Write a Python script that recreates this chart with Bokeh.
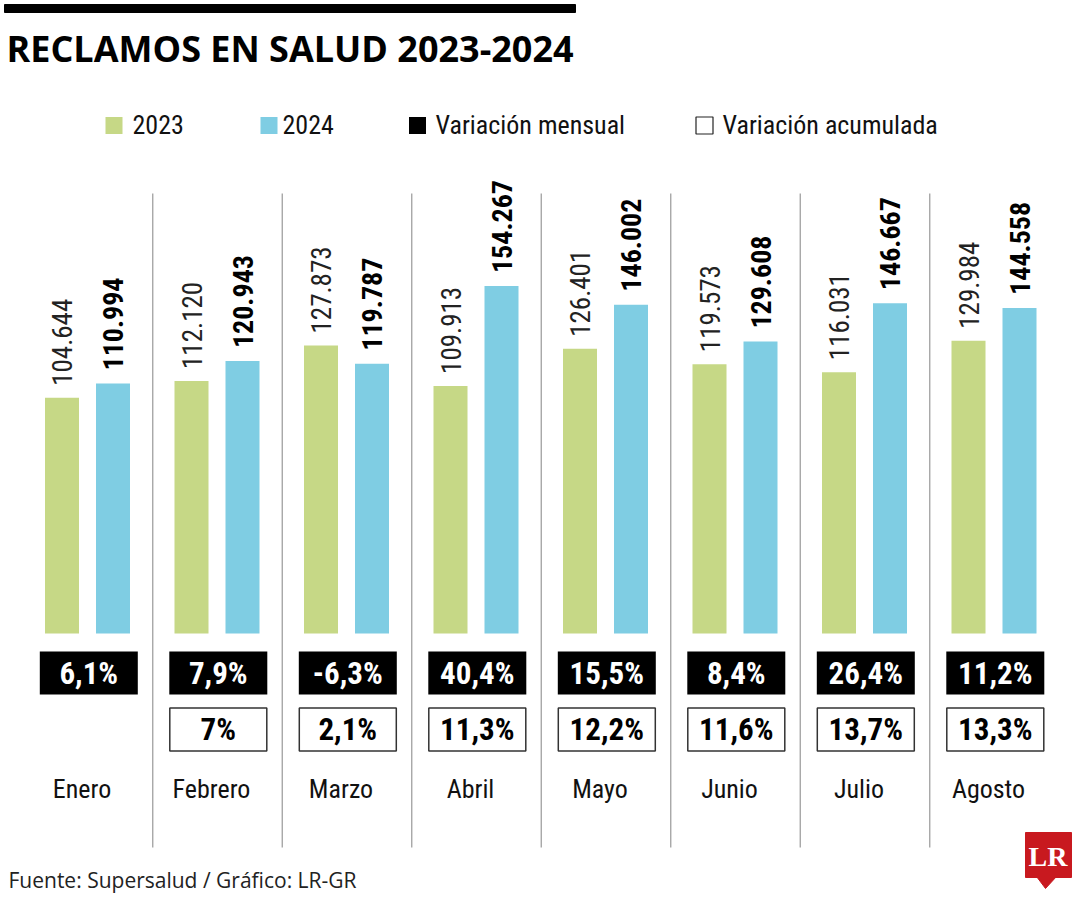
import math
from bokeh.plotting import figure
from bokeh.models import Range1d, ColumnDataSource
from bokeh.transform import dodge
from bokeh.core.properties import value
from bokeh.embed import file_html
from bokeh.resources import INLINE

# ---------------- data ----------------
months = ["Enero", "Febrero", "Marzo", "Abril", "Mayo", "Junio", "Julio", "Agosto"]
reclamos_2023 = [104644, 112120, 127873, 109913, 126401, 119573, 116031, 129984]
reclamos_2024 = [110994, 120943, 119787, 154267, 146002, 129608, 146667, 144558]
var_mensual = [6.1, 7.9, -6.3, 40.4, 15.5, 8.4, 26.4, 11.2]
var_acumulada = [None, 7, 2.1, 11.3, 12.2, 11.6, 13.7, 13.3]
legend_labels = ["2023", "2024", "Variación mensual", "Variación acumulada"]
title_text = "RECLAMOS EN SALUD 2023-2024"
source_text = "Fuente: Supersalud / Gráfico: LR-GR"

# ---------------- style / layout ----------------
GREEN = "#C6D886"
BLUE = "#7FCDE3"
RED = "#C8191F"
COND = "Roboto Condensed, DejaVu Sans Condensed, Roboto"
SANS = "Open Sans"

W, H = 1080, 900
OFF = 0            # bokeh page has no body margin
G0, GSTEP = 87.5, 129.5   # centre of first group / group step (page px)
BASE_Y = 633       # baseline (page px)
UNITS_PER_PX = 444.0


def X(px):
    return (px - G0) / GSTEP


def Y(py):
    return (BASE_Y - py) * UNITS_PER_PX


def fmt_int(v):
    return f"{v:,}".replace(",", ".")


def fmt_pct(v):
    return f"{v:g}".replace(".", ",") + "%"


idx = list(range(len(months)))
src = ColumnDataSource(dict(
    x=idx,
    v23=reclamos_2023,
    v24=reclamos_2024,
    l23=[fmt_int(v) for v in reclamos_2023],
    l24=[fmt_int(v) for v in reclamos_2024],
))

p = figure(width=W, height=H, output_backend="svg", toolbar_location=None,
           x_range=Range1d(X(OFF), X(OFF + W)), y_range=Range1d(Y(OFF + H), Y(OFF)),
           x_axis_location=None, y_axis_location=None, min_border=0)
p.grid.visible = False
p.outline_line_color = None
p.background_fill_color = "white"
p.border_fill_color = "white"

# top rule & title
p.quad(left=[X(4)], right=[X(575)], top=[Y(4)], bottom=[Y(12)], color="black")
p.text(x=[X(6)], y=[Y(48)], text=[title_text], text_font=value(SANS), text_font_style="bold",
       text_font_size="36px", text_align="left", text_baseline="middle", text_color="black")

# legend
leg_sq_x = [113.5, 268.5, 417, 704]
leg_tx_x = [132, 282, 435, 722]
leg_fill = [GREEN, BLUE, "black", "white"]
leg_line = [None, None, None, "#222222"]
for sx, tx, fc, lc, lab in zip(leg_sq_x, leg_tx_x, leg_fill, leg_line, legend_labels):
    p.rect(x=[X(sx)], y=[Y(125)], width=17, height=17, width_units="screen", height_units="screen",
           fill_color=fc, line_color=lc, line_width=1.2)
    p.text(x=[X(tx)], y=[Y(124)], text=[lab], text_font=value(COND), text_font_size="26px",
           text_align="left", text_baseline="middle", text_color="#111111")

# separators
sep_x = [i + 0.5 for i in idx[:-1]]
p.segment(x0=sep_x, y0=[Y(193)] * len(sep_x), x1=sep_x, y1=[Y(847)] * len(sep_x),
          line_color="#a0a0a0", line_width=1.3)

# bars
off23, off24, bw = -26 / GSTEP, 25 / GSTEP, 34 / GSTEP
p.vbar(x=dodge("x", off23), top="v23", bottom=0, width=bw, source=src, fill_color=GREEN, line_color=None)
p.vbar(x=dodge("x", off24), top="v24", bottom=0, width=bw, source=src, fill_color=BLUE, line_color=None)

# rotated value labels
p.text(x=dodge("x", off23), y="v23", text="l23", source=src, angle=math.pi / 2, y_offset=-12,
       text_font=value(COND), text_font_size="27px", text_align="left", text_baseline="middle",
       text_color="#222222")
p.text(x=dodge("x", off24), y="v24", text="l24", source=src, angle=math.pi / 2, y_offset=-13,
       text_font=value(COND), text_font_style="bold", text_font_size="28px", text_align="left",
       text_baseline="middle", text_color="black")

# monthly variation boxes
box_dx = 0.8 / GSTEP
bx = [i + box_dx for i in idx]
p.rect(x=bx, y=[Y(672.5)] * len(bx), width=98, height=43, width_units="screen", height_units="screen",
       fill_color="black", line_color=None)
p.text(x=bx, y=[Y(673)] * len(bx), text=[fmt_pct(v) for v in var_mensual], text_font=value(COND),
       text_font_style="bold", text_font_size="31px", text_align="center", text_baseline="middle",
       text_color="white")

# accumulated variation boxes
ax = [i + box_dx for i, v in zip(idx, var_acumulada) if v is not None]
at = [fmt_pct(v) for v in var_acumulada if v is not None]
p.rect(x=ax, y=[Y(729)] * len(ax), width=97, height=43, width_units="screen", height_units="screen",
       fill_color="white", line_color="#333333", line_width=1.5)
p.text(x=ax, y=[Y(729)] * len(ax), text=at, text_font=value(COND), text_font_style="bold",
       text_font_size="31px", text_align="center", text_baseline="middle", text_color="black")

# month names
p.text(x=[i - 6 / GSTEP for i in idx], y=[Y(788.5)] * len(idx), text=months, text_font=value(COND),
       text_font_size="26px", text_align="center", text_baseline="middle", text_color="#111111")

# footer
p.text(x=[X(8)], y=[Y(879.5)], text=[source_text], text_font=value(SANS), text_font_size="21px",
       text_align="left", text_baseline="middle", text_color="#222222")

# LR logo
p.quad(left=[X(1025)], right=[X(1071)], top=[Y(832)], bottom=[Y(877)], color=RED)
p.patch(x=[X(1036), X(1056), X(1045)], y=[Y(876), Y(876), Y(888)], color=RED)
p.text(x=[X(1047.5)], y=[Y(855.5)], text=["LR"], text_font=value("Liberation Serif"), text_font_style="bold",
       text_font_size="28px", text_align="center", text_baseline="middle", text_color="white")

open("out.html", "w").write(file_html(p, INLINE))
